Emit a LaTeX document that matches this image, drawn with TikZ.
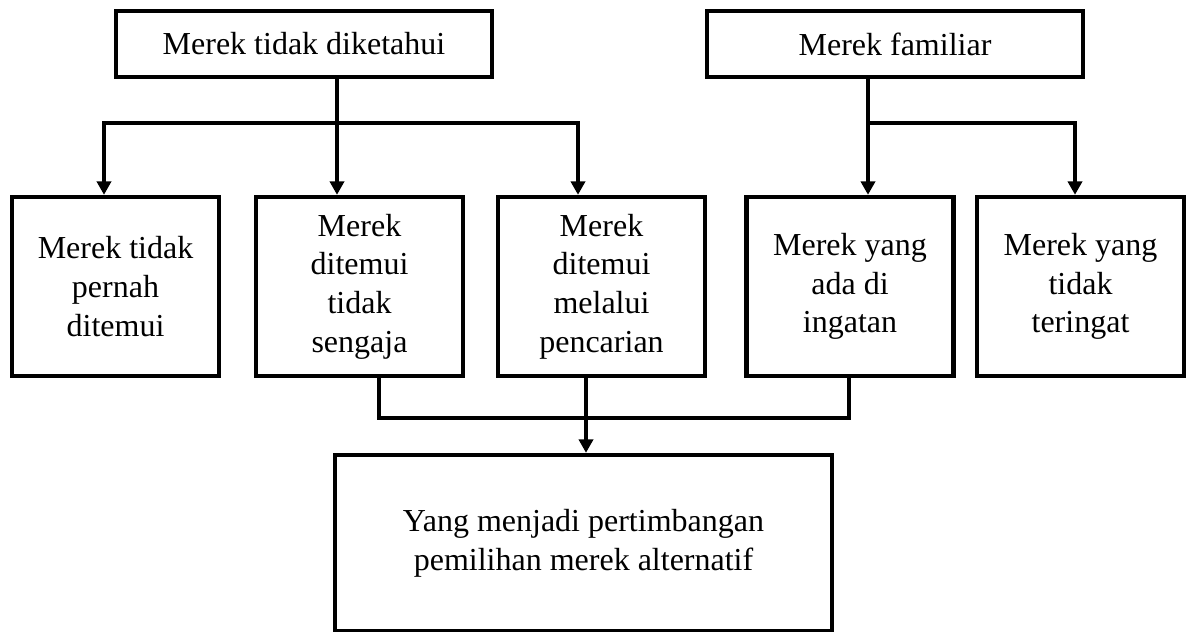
\documentclass[tikz,border=0pt]{standalone}
\usepackage{fontspec}
\setmainfont{Liberation Serif}
\usetikzlibrary{arrows.meta}
\begin{document}
\begin{tikzpicture}[x=0.75pt,y=-0.75pt,
  box/.style={draw=black, line width=3.3pt, rectangle, inner sep=0pt, align=center,
    font=\fontsize{24}{29}\selectfont, line join=miter},
  topbox/.style={box, minimum width=282pt, minimum height=49.5pt},
  midbox/.style={box, minimum width=155.25pt, minimum height=134.25pt},
  botbox/.style={box, minimum width=372.75pt, minimum height=132pt},
  conn/.style={line width=3pt, line join=miter},
  arr/.style={conn, -{Triangle[width=10.5pt,length=10pt]}}]
\useasboundingbox (0,0) rectangle (1186,632);
\fill[white] (0,0) rectangle (1186,632);

% top boxes
\node[topbox] (t1) at (304,44) {Merek tidak diketahui};
\node[topbox] (t2) at (895,44) {Merek familiar};

% middle boxes
\node[midbox] (A) at (115.5,286.5) {Merek tidak\\pernah\\ditemui};
\node[midbox] (B) at (359.5,286.5) {Merek\\ditemui\\tidak\\sengaja};
\node[midbox] (C) at (601.5,286.5) {Merek\\ditemui\\melalui\\pencarian};
\node[midbox] (D) at (850,286.5) {Merek yang\\ada di\\ingatan};
\node[midbox] (E) at (1080.5,286.5) {Merek yang\\tidak\\teringat};

% bottom box
\node[botbox] (Y) at (583.5,543) {Yang menjadi pertimbangan\\pemilihan merek alternatif};

% junction coordinates
\coordinate (j1) at (337,123);
\coordinate (b1L) at (104,123);
\coordinate (b1R) at (578,123);
\coordinate (j2) at (868,123);
\coordinate (b2R) at (1075,123);
\coordinate (k1) at (379,418);
\coordinate (k2) at (849,418);
\coordinate (m) at (586,418);

% connectors from "Merek tidak diketahui"
\draw[arr] (t1.south -| j1) -- (j1 |- B.north);
\draw[arr] (b1R) -- (b1L) -- (b1L |- A.north);
\draw[arr] (b1L) -- (b1R) -- (b1R |- C.north);

% connectors from "Merek familiar"
\draw[arr] (t2.south -| j2) -- (j2 |- D.north);
\draw[arr] (j2) -- (b2R) -- (b2R |- E.north);

% bottom connectors
\draw[conn] (B.south -| k1) -- (k1) -- (k2) -- (D.south -| k2);
\draw[arr] (C.south -| m) -- (m |- Y.north);
\end{tikzpicture}
\end{document}
